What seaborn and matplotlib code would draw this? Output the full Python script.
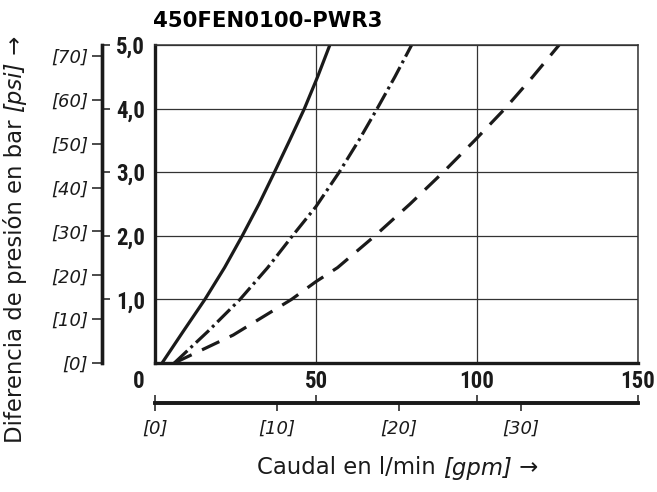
import matplotlib
matplotlib.use("Agg")
import matplotlib.pyplot as plt
import seaborn as sns

# flow (l/min) vs pressure drop (bar)
q_solid = [2.2, 8.8, 15.5, 21.6, 27.1, 32.3, 37.1, 41.8, 46.4, 50.5, 54.3]
p_solid = [0, 0.5, 1.0, 1.5, 2.0, 2.5, 3.0, 3.5, 4.0, 4.5, 5.0]
q_dashdot = [6.0, 16.5, 26.4, 35.0, 42.7, 50.0, 57.2, 63.3, 69.0, 74.5, 79.7]
p_dashdot = [0, 0.5, 1.0, 1.5, 2.0, 2.46, 3.0, 3.5, 4.0, 4.5, 5.0]
q_dashed = [6.0, 24.3, 42.4, 50.0, 56.7, 68.3, 79.2, 89.5, 99.3, 108.7, 117.3, 125.5]
p_dashed = [0, 0.44, 1.0, 1.28, 1.5, 2.0, 2.5, 3.0, 3.5, 4.0, 4.5, 5.0]

flow_ticks = [0, 50, 100, 150]
flow_labels = ['', '50', '100', '150']
bar_ticks = [1, 2, 3, 4, 5]
bar_labels = ['1,0', '2,0', '3,0', '4,0', '5,0']
psi_ticks = [0, 10, 20, 30, 40, 50, 60, 70]
gpm_ticks = [0, 10, 20, 30]

title = '450FEN0100-PWR3'

BAR2PSI = 14.5038
GPM2LPM = 3.78541

sns.set_style('white')
plt.rcParams['font.family'] = ['DejaVu Sans']
ink = '#1a1a1a'
for k in ['text.color', 'axes.labelcolor', 'xtick.color', 'ytick.color']:
    plt.rcParams[k] = ink
narrow = ['Roboto Condensed', 'Liberation Sans']
W, H = 657, 492

fig = plt.figure(figsize=(W / 100, H / 100), dpi=100)
ax = fig.add_axes([155 / W, 1 - 363 / H, 483 / W, 318 / H])

sns.lineplot(x=q_solid, y=p_solid, ax=ax, color=ink, lw=2.3)
sns.lineplot(x=q_dashdot, y=p_dashdot, ax=ax, color=ink, lw=2.3,
             linestyle=(0, (5.6, 1.4, 0.9, 1.4)))
sns.lineplot(x=q_dashed, y=p_dashed, ax=ax, color=ink, lw=2.3,
             linestyle=(0, (6.0, 3.6)))

ax.set_xlim(0, 150)
ax.set_ylim(0, 5)
ax.set_xticks(flow_ticks)
ax.set_xticklabels(flow_labels, fontweight='bold', fontsize=16.5, family=narrow)
ax.set_yticks([0, 1, 2, 3, 4, 5])
ax.tick_params(length=0, labelleft=False, pad=5)
ax.grid(True, color='#333333', lw=0.9)
for s in ['left', 'bottom']:
    ax.spines[s].set_linewidth(2.4)
    ax.spines[s].set_color(ink)
for s in ['top', 'right']:
    ax.spines[s].set_linewidth(1.1)
    ax.spines[s].set_color('#333333')
ax.annotate('0', xy=(0, 0), xytext=(-16, -7), textcoords='offset pixels',
            ha='center', va='top', fontweight='bold', fontsize=16.5,
            family=narrow, annotation_clip=False)

# psi scale, ticks to the left
ypos = -53 / 483
sec_psi = ax.secondary_yaxis(ypos, functions=(lambda b: b * BAR2PSI,
                                              lambda p: p / BAR2PSI))
sec_psi.set_yticks(psi_ticks)
sec_psi.set_yticklabels([f'[{v}]' for v in psi_ticks], style='italic',
                        fontsize=13)
sec_psi.tick_params(direction='out', length=7, width=1.1, pad=3, color=ink)
sec_psi.spines['left'].set_linewidth(2.4)
sec_psi.spines['left'].set_color(ink)

# bar scale, ticks to the right of the same line
sec_bar = ax.secondary_yaxis(ypos)
sec_bar.set_alignment('right')
sec_bar.set_yticks(bar_ticks)
sec_bar.set_yticklabels(bar_labels, fontweight='bold', fontsize=16.5, family=narrow)
sec_bar.tick_params(direction='out', length=6, width=1.1, pad=4, color=ink)
sec_bar.spines['right'].set_linewidth(2.4)
sec_bar.spines['right'].set_color(ink)

# gpm scale under the chart
xpos = -40 / 318
sec_gpm = ax.secondary_xaxis(xpos, functions=(lambda q: q / GPM2LPM,
                                              lambda g: g * GPM2LPM))
sec_gpm.set_xticks(gpm_ticks)
sec_gpm.set_xticklabels([f'[{v}]' for v in gpm_ticks], style='italic',
                        fontsize=13)
sec_gpm.tick_params(direction='out', length=6, width=1.1, pad=6, color=ink)
sec_gpm.spines['bottom'].set_linewidth(2.6)
sec_gpm.spines['bottom'].set_color(ink)

sec_lpm = ax.secondary_xaxis(xpos)
sec_lpm.set_alignment('top')
sec_lpm.set_xticks(flow_ticks)
sec_lpm.set_xticklabels([])
sec_lpm.tick_params(direction='out', length=6, width=1.1, color=ink)
sec_lpm.spines['top'].set_linewidth(2.6)
sec_lpm.spines['top'].set_color(ink)

# axis titles, regular + italic unit + arrow
fs = 16.4
t1 = fig.text(257 / W, 1 - 468 / H, 'Caudal en l/min ', ha='left', va='center',
              fontsize=fs)
t2 = ax.annotate('[gpm]', xy=(1, 0.5), xycoords=t1, ha='left', va='center',
                 fontsize=fs, style='italic')
ax.annotate(' \u2192', xy=(1, 0.5), xycoords=t2, ha='left', va='center',
            fontsize=fs)

u1 = fig.text(15 / W, 1 - 443 / H, 'Diferencia de presión en bar ',
              rotation=90, ha='center', va='bottom', fontsize=fs)
u2 = ax.annotate('[psi]', xy=(0.5, 1), xycoords=u1, ha='center', va='bottom',
                 rotation=90, fontsize=fs, style='italic')
ax.annotate(' \u2192', xy=(0.5, 1), xycoords=u2, ha='center', va='bottom',
            rotation=90, fontsize=fs)

fig.text(153 / W, 1 - 27 / H, title, ha='left', va='baseline',
         fontweight='bold', fontsize=15.3, color='black')

fig.savefig('out.png', dpi=100)
